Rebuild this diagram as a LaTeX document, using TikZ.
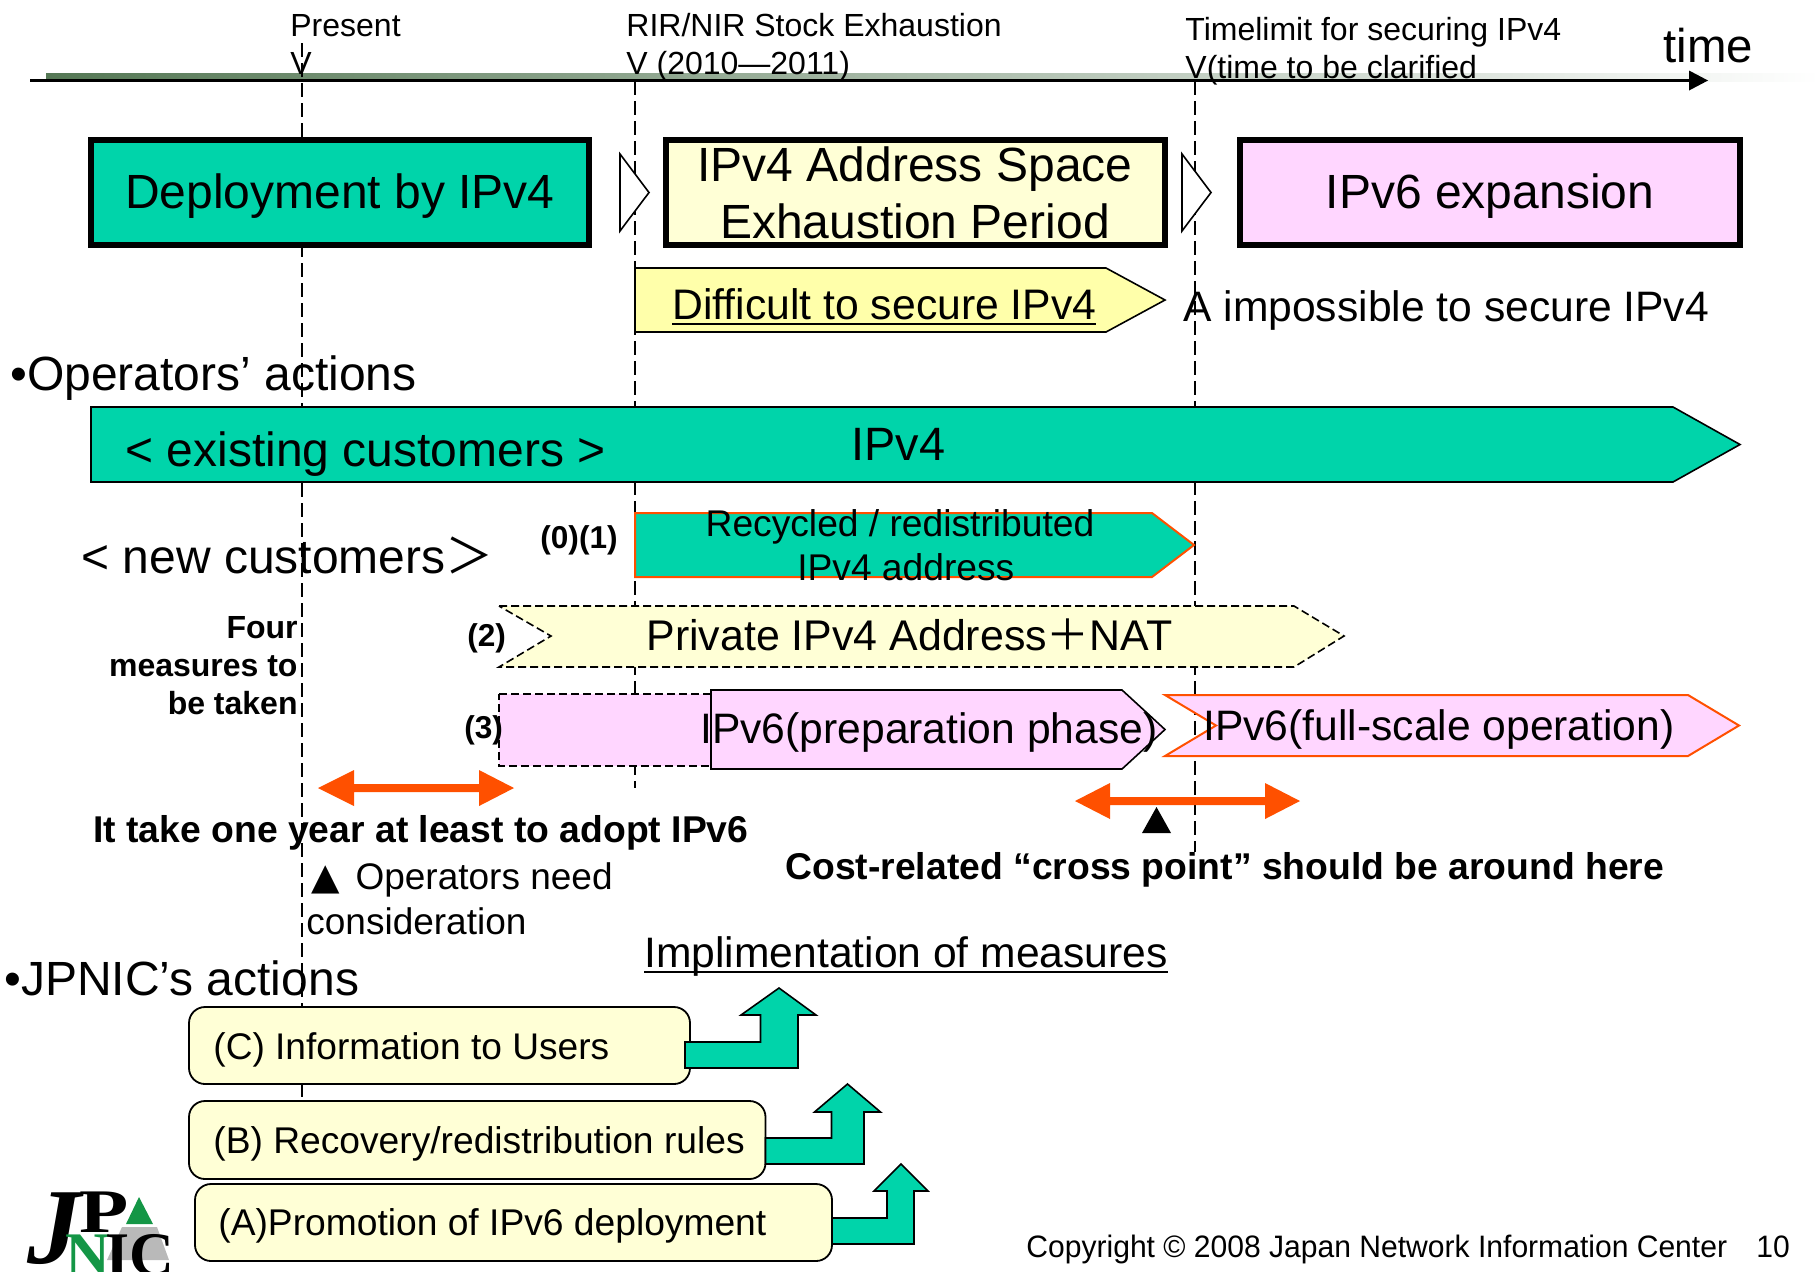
\documentclass[tikz,border=0pt]{standalone}
\usepackage{fontspec}
\setmainfont{Liberation Sans}
\newfontfamily\cjkfont{Noto Sans CJK JP}
\newfontfamily\symfont{DejaVu Sans}
\newfontfamily\copyfont[FakeStretch=0.97]{Liberation Sans}
\newfontfamily\logofont{Liberation Serif}
\newfontfamily\logowide[FakeStretch=1.3]{Liberation Serif}
\usepackage{xcolor}
\usepackage{tikz}

\definecolor{bandgreen}{RGB}{0,212,170}
\definecolor{paleyellow}{RGB}{255,255,214}
\definecolor{deepyellow}{RGB}{255,255,170}
\definecolor{palepink}{RGB}{255,214,255}
\definecolor{redorange}{RGB}{255,80,0}
\definecolor{stripdark}{RGB}{85,120,85}
\definecolor{stripmid}{RGB}{140,190,140}
\definecolor{logogreen}{RGB}{20,150,70}
\definecolor{logogray}{RGB}{185,185,185}

\newcommand{\undertext}[1]{\setbox0\hbox{#1}\rlap{\rule[-3.2pt]{\wd0}{1.3pt}}\box0}
\newcommand{\sz}[2]{\fontsize{#1}{#2}\selectfont}

\tikzset{
	lab/.style={inner sep=0pt, anchor=base west, align=left},
	mid/.style={inner sep=0pt, anchor=base, align=center},
	thickbox/.style={draw=black, line width=2.75pt},
	thinbox/.style={draw=black, line width=0.8pt},
	orangebox/.style={draw=redorange, line width=1pt},
	dashbox/.style={draw=black, line width=0.8pt, dash pattern=on 4pt off 2pt},
	timeline/.style={black, line width=0.7pt, dash pattern=on 7pt off 3pt},
	roundbox/.style={draw=black, line width=0.9pt, fill=paleyellow, rounded corners=8pt},
	bentarrow/.style={draw=black, line width=0.8pt, fill=bandgreen},
	orangearrow/.style={fill=redorange}
}

\begin{document}
\begin{tikzpicture}[x=0.5pt,y=-0.5pt]
	\useasboundingbox (0,0) rectangle (1820,1271);

	% axis
	\shade[left color=stripdark, middle color=stripmid, right color=white] (46,73) rectangle (1820,81);

	\draw[timeline] (302,43)--(302,1183);
	\draw[timeline] (635,81)--(635,788);
	\draw[timeline] (1195,81)--(1195,852);

	\fill (1708,80.5)--(1689,70.5)--(1689,90.5)--cycle;
	\draw[line width=1.1pt] (30,80.5)--(1695,80.5);

	% phases
	\draw[thickbox, fill=bandgreen] (91,140) rectangle (589,245);
	\draw[thickbox, fill=paleyellow] (666,140) rectangle (1165,245);
	\draw[thickbox, fill=palepink] (1240,140) rectangle (1740,245);
	\draw[thinbox, fill=white] (620,154)--(649,192.5)--(620,231)--cycle;
	\draw[thinbox, fill=white] (1182,154)--(1211,192.5)--(1182,231)--cycle;

	\draw[thinbox, fill=deepyellow] (635,268)--(1106,268)--(1165,300)--(1106,332)--(635,332)--cycle;

	% operators
	\draw[thinbox, fill=bandgreen] (91,407)--(1673,407)--(1740,444.5)--(1673,482)--(91,482)--cycle;
	\draw[orangebox, fill=bandgreen] (635,513)--(1152,513)--(1194,545)--(1152,577)--(635,577)--cycle;
	\draw[dashbox, fill=paleyellow] (499,606)--(1294,606)--(1344,636)--(1294,667)--(499,667)--(551,636)--cycle;
	\draw[dashbox, fill=palepink] (499,694)--(760,694)--(760,766)--(499,766)--cycle;
	\draw[thinbox, fill=palepink] (711,690)--(1122,690)--(1165,729.5)--(1122,769)--(711,769)--cycle;
	\draw[orangebox, fill=palepink] (1165,695)--(1688,695)--(1739,725.5)--(1688,756)--(1165,756)--(1216,725.5)--cycle;

	% spans
	\fill[orangearrow] (318,788)--(354,770)--(354,784)--(479,784)--(479,770)--(514,788)--(479,806)--(479,792)--(354,792)--(354,806)--cycle;
	\fill[orangearrow] (1075,801)--(1110,783)--(1110,797)--(1265,797)--(1265,783)--(1300,801)--(1265,819)--(1265,805)--(1110,805)--(1110,819)--cycle;
	\fill (1156.5,807)--(1171,833)--(1142,833)--cycle;

	% jpnic
	\draw[roundbox] (189,1007) rectangle (690,1084);
	\draw[roundbox] (189,1101) rectangle (765.5,1179);
	\draw[roundbox] (195,1184) rectangle (832,1261);
	\draw[bentarrow] (685,1042)--(760.5,1042)--(760.5,1015)--(741,1015)--(779,988)--(816,1015)--(798,1015)--(798,1068)--(685,1068)--cycle;
	\draw[bentarrow] (765.5,1138)--(831.5,1138)--(831.5,1112)--(814.5,1112)--(847.5,1084)--(880.5,1112)--(864,1112)--(864,1164)--(765.5,1164)--cycle;
	\draw[bentarrow] (832,1218)--(887,1218)--(887,1191)--(874,1191)--(901,1164)--(928,1191)--(914,1191)--(914,1244)--(832,1244)--cycle;

	% logo
	\fill[logogray] (122,1227)--(157,1227)--(169,1260)--(107,1260)--cycle;
	\fill[logogreen] (139,1197)--(153,1224)--(126,1224)--cycle;
	\node[lab, font={\logofont\bfseries\itshape\sz{54}{54}}] (logoJ) at (27,1263) {J};
	\node[lab, font={\logowide\bfseries\sz{31}{31}}] (logoP) at (79,1232) {P};
	\node[lab, font={\logofont\bfseries\sz{31}{31}}, text=logogreen] (logoN) at (65,1275) {N};
	\node[lab, font={\logofont\bfseries\sz{31}{31}}] (logoIC) at (105,1275) {IC};

	% labels
	\node[lab, font={\sz{16}{19}}] (present) at (290,74) {Present\\V};
	\node[lab, font={\sz{16}{19}}] (stock) at (626,74) {RIR/NIR Stock Exhaustion\\V (2010—2011)};
	\node[lab, font={\sz{16}{19}}] (limit) at (1185,78.5) {Timelimit for securing IPv4\\V(time to be clarified};
	\node[lab, font={\sz{23.7}{24}}] (timelab) at (1663,62) {time};

	\node[mid, font={\sz{24}{28}}] (deploy) at (340,208) {Deployment by IPv4};
	\node[mid, font={\sz{24}{28.5}}] (exhaust) at (915,238) {IPv4 Address Space\\Exhaustion Period};
	\node[mid, font={\sz{24}{28}}] (expansion) at (1490,208) {IPv6 expansion};
	\node[lab, font={\sz{21.35}{24}}] (difficult) at (672,319) {\undertext{Difficult to secure IPv4}};
	\node[lab, font={\sz{21.3}{24}}] (impossible) at (1183,321) {A impossible to secure IPv4};

	\node[lab, font={\sz{24}{28}}] (opact) at (10,390) {•Operators’ actions};
	\node[lab, font={\sz{24}{28}}] (existing) at (125,466) {< existing customers >};
	\node[lab, font={\sz{23.4}{28}}] (ipvfour) at (851,460) {IPv4};
	\node[lab, font={\sz{24}{28}}] (newcust) at (81,573) {< new customers{\cjkfont ＞}};
	\node[mid, font={\sz{18.6}{22}}] (recycled) at (900,580) {Recycled / redistributed\\\hspace*{5.8pt}IPv4 address};

	\node[lab, font={\bfseries\sz{15.8}{18}}] (zeroone) at (540,548) {(0)(1)};
	\node[lab, font={\bfseries\sz{15.8}{18}}] (two) at (467,646) {(2)};
	\node[lab, font={\bfseries\sz{15.8}{18}}] (three) at (464,738) {(3)};
	\node[inner sep=0pt, anchor=base east, align=right, font={\bfseries\sz{16}{19}}] (four) at (298,714) {Four\\measures to\\be taken};

	\node[lab, font={\sz{21.45}{24}}] (private) at (646,650) {Private IPv4 Address{\cjkfont ＋}NAT};
	\node[lab, font={\sz{21.3}{24}}] (prep) at (700,743) {IPv6(preparation phase)};
	\node[lab, font={\sz{21.3}{24}}] (full) at (1203,740) {IPv6(full-scale operation)};

	\node[lab, font={\bfseries\sz{18.65}{22}}] (oneyear) at (93,842) {It take one year at least to adopt IPv6};
	\node[lab, font={\sz{18.5}{22.5}}] (opneed) at (306,934) {\hspace*{2.3pt}{\symfont ▲}\hspace{2.9pt} Operators need\\consideration};
	\node[lab, font={\bfseries\sz{18.65}{22}}] (cross) at (785,879) {Cost-related “cross point” should be around here};
	\node[lab, font={\sz{21.3}{24}}] (impl) at (644,967) {\undertext{Implimentation of measures}};
	\node[lab, font={\sz{24}{28}}] (jpact) at (4,995) {•JPNIC’s actions};

	\node[lab, font={\sz{18.55}{22}}] (infousers) at (213,1059) {(C) Information to Users};
	\node[lab, font={\sz{18.6}{22}}] (rules) at (213,1153) {(B) Recovery/redistribution rules};
	\node[lab, font={\sz{18.6}{22}}] (promo) at (218,1235) {(A)Promotion of IPv6 deployment};

	\node[lab, font={\copyfont\sz{15.5}{18}}] (copyr) at (1026,1257) {Copyright © 2008 Japan Network Information Center};
	\node[lab, font={\copyfont\sz{15.5}{18}}] (pagenum) at (1756,1257) {10};

\end{tikzpicture}
\end{document}
